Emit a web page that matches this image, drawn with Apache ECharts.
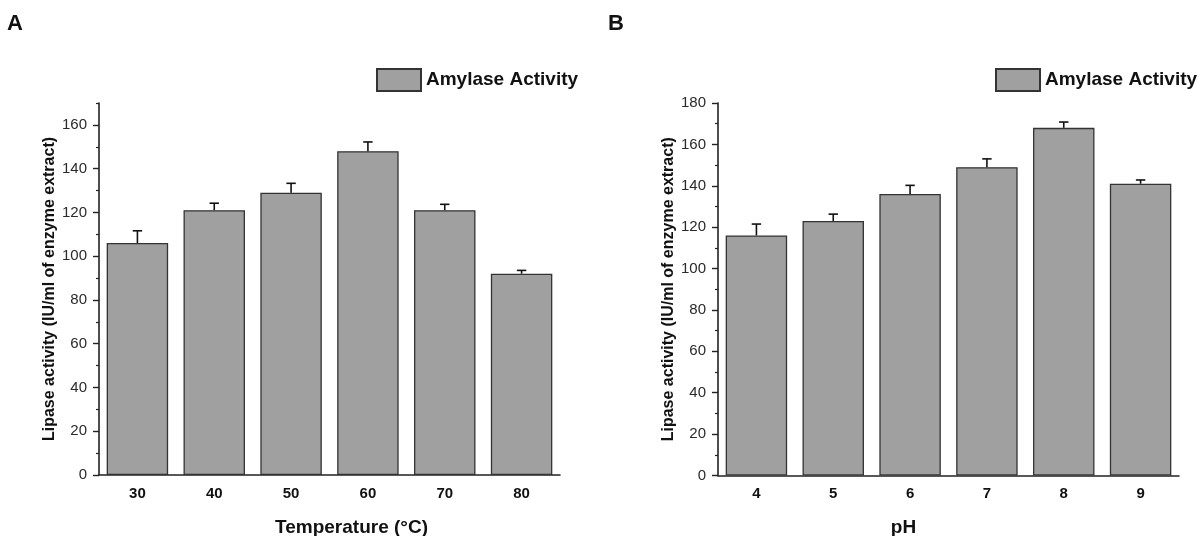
<!DOCTYPE html>
<html>
<head>
<meta charset="utf-8">
<script src="https://cdn.jsdelivr.net/npm/echarts@6/dist/echarts.min.js"></script>
<style>html,body{margin:0;padding:0;background:#fff;}#c{width:1198px;height:536px;}</style>
</head>
<body>
<div id="c"></div>
<script>
const seriesName = 'Amylase Activity';
const tempCats = ['30', '40', '50', '60', '70', '80'];
const tempVals = [106, 121, 129, 148, 121, 92];
const tempErr = [5.6, 3.2, 4.3, 4.2, 2.7, 1.5];
const phCats = ['4', '5', '6', '7', '8', '9'];
const phVals = [116, 123, 136, 149, 168, 141];
const phErr = [5.5, 3.3, 4.2, 4.0, 2.8, 1.8];
const tempMajorTicks = [0, 20, 40, 60, 80, 100, 120, 140, 160];
const tempMinorTicks = [10, 30, 50, 70, 90, 110, 130, 150, 170];
const phMajorTicks = [0, 20, 40, 60, 80, 100, 120, 140, 160, 180];
const phMinorTicks = [10, 30, 50, 70, 90, 110, 130, 150, 170];
const tempMax = 170;
const phMax = 180;

const FONT = 'Liberation Sans, Arial, sans-serif';
const chart = echarts.init(document.getElementById('c'), null, {renderer: 'canvas'});

function errData(vals, errs) { return vals.map((v, i) => [i, v, errs[i]]); }

function errRender(params, api) {
  const x = api.value(0), y = api.value(1), e = api.value(2);
  const top = api.coord([x, y + e]);
  const base = api.coord([x, y]);
  const half = 4.7;
  const st = {stroke: '#111', lineWidth: 1.6};
  return {type: 'group', children: [
    {type: 'line', shape: {x1: top[0], y1: top[1], x2: base[0], y2: base[1]}, style: st},
    {type: 'line', shape: {x1: top[0] - half, y1: top[1], x2: top[0] + half, y2: top[1]}, style: st}
  ]};
}

function mainX(grid, cats, name, pad) {
  return {
    type: 'category', gridIndex: grid, data: cats, position: 'bottom',
    axisLine: {lineStyle: {color: '#222', width: 1.6}},
    axisTick: {alignWithLabel: true, length: 5, lineStyle: {color: '#222', width: 1.4}},
    axisLabel: {fontFamily: FONT, fontSize: 15, fontWeight: 'bold', color: '#111', margin: 11},
    name: name, nameLocation: 'middle', nameGap: 43,
    nameTextStyle: {fontFamily: FONT, fontSize: 19, fontWeight: 'bold', color: '#111', padding: pad},
    splitLine: {show: false}
  };
}
function boundX(grid, cats) {
  return {
    type: 'category', gridIndex: grid, data: cats, position: 'bottom',
    axisLine: {show: false},
    axisTick: {alignWithLabel: false, length: 3, lineStyle: {color: '#222', width: 1.2}},
    axisLabel: {show: false}, splitLine: {show: false}
  };
}
function majorY(grid, max, ticks) {
  return {
    type: 'value', gridIndex: grid, min: 0, max: max, position: 'left',
    axisLine: {show: true, lineStyle: {color: '#222', width: 1.6}},
    axisTick: {show: true, length: 6, customValues: ticks, lineStyle: {color: '#222', width: 1.4}},
    axisLabel: {customValues: ticks, fontFamily: FONT, fontSize: 15, color: '#2a2a2a', margin: 12},
    splitLine: {show: false},
    name: 'Lipase activity (IU/ml of enzyme extract)', nameLocation: 'middle', nameGap: 38, nameRotate: 90,
    nameTextStyle: {fontFamily: FONT, fontSize: 16, fontWeight: 'bold', color: '#111'}
  };
}
function minorY(grid, max, ticks) {
  return {
    type: 'value', gridIndex: grid, min: 0, max: max, position: 'left',
    axisLine: {show: false},
    axisTick: {show: true, length: 3, customValues: ticks, lineStyle: {color: '#222', width: 1.2}},
    axisLabel: {show: false}, splitLine: {show: false}
  };
}
const barStyle = {color: '#a0a0a0', borderColor: '#333', borderWidth: 1.3};
const legendText = {fontFamily: FONT, fontSize: 19, fontWeight: 'bold', color: '#111'};

chart.setOption({
  animation: false,
  backgroundColor: '#fff',
  textStyle: {fontFamily: FONT},
  legend: [
    {data: [{name: seriesName, icon: 'rect'}], left: 371, top: 63, itemWidth: 44, itemHeight: 22, itemGap: 0,
     textStyle: legendText, selectedMode: false},
    {data: [{name: seriesName, icon: 'rect'}], left: 990, top: 63, itemWidth: 44, itemHeight: 22, itemGap: 0,
     textStyle: legendText, selectedMode: false}
  ],
  graphic: [
    {type: 'text', left: 7, top: 13, style: {text: 'A', font: 'bold 22px ' + FONT, fill: '#111'}},
    {type: 'text', left: 608, top: 13, style: {text: 'B', font: 'bold 22px ' + FONT, fill: '#111'}}
  ],
  grid: [
    {left: 99, top: 103, width: 461, height: 372, outerBoundsMode: 'none', containLabel: false},
    {left: 718, top: 103, width: 461, height: 372.5, outerBoundsMode: 'none', containLabel: false}
  ],
  xAxis: [
    mainX(0, tempCats, 'Temperature (°C)', [0, 0, 0, 44]),
    boundX(0, tempCats),
    mainX(1, phCats, 'pH', [0, 90, 0, 0]),
    boundX(1, phCats)
  ],
  yAxis: [
    majorY(0, tempMax, tempMajorTicks),
    minorY(0, tempMax, tempMinorTicks),
    majorY(1, phMax, phMajorTicks),
    minorY(1, phMax, phMinorTicks)
  ],
  series: [
    {name: seriesName, type: 'bar', xAxisIndex: 0, yAxisIndex: 0, data: tempVals,
     barCategoryGap: '20%', itemStyle: barStyle},
    {name: 'errA', type: 'custom', xAxisIndex: 0, yAxisIndex: 0, data: errData(tempVals, tempErr),
     renderItem: errRender, encode: {x: 0, y: 1}, z: 5},
    {name: seriesName, type: 'bar', xAxisIndex: 2, yAxisIndex: 2, data: phVals,
     barCategoryGap: '20%', itemStyle: barStyle},
    {name: 'errB', type: 'custom', xAxisIndex: 2, yAxisIndex: 2, data: errData(phVals, phErr),
     renderItem: errRender, encode: {x: 0, y: 1}, z: 5}
  ]
});
</script>
</body>
</html>
